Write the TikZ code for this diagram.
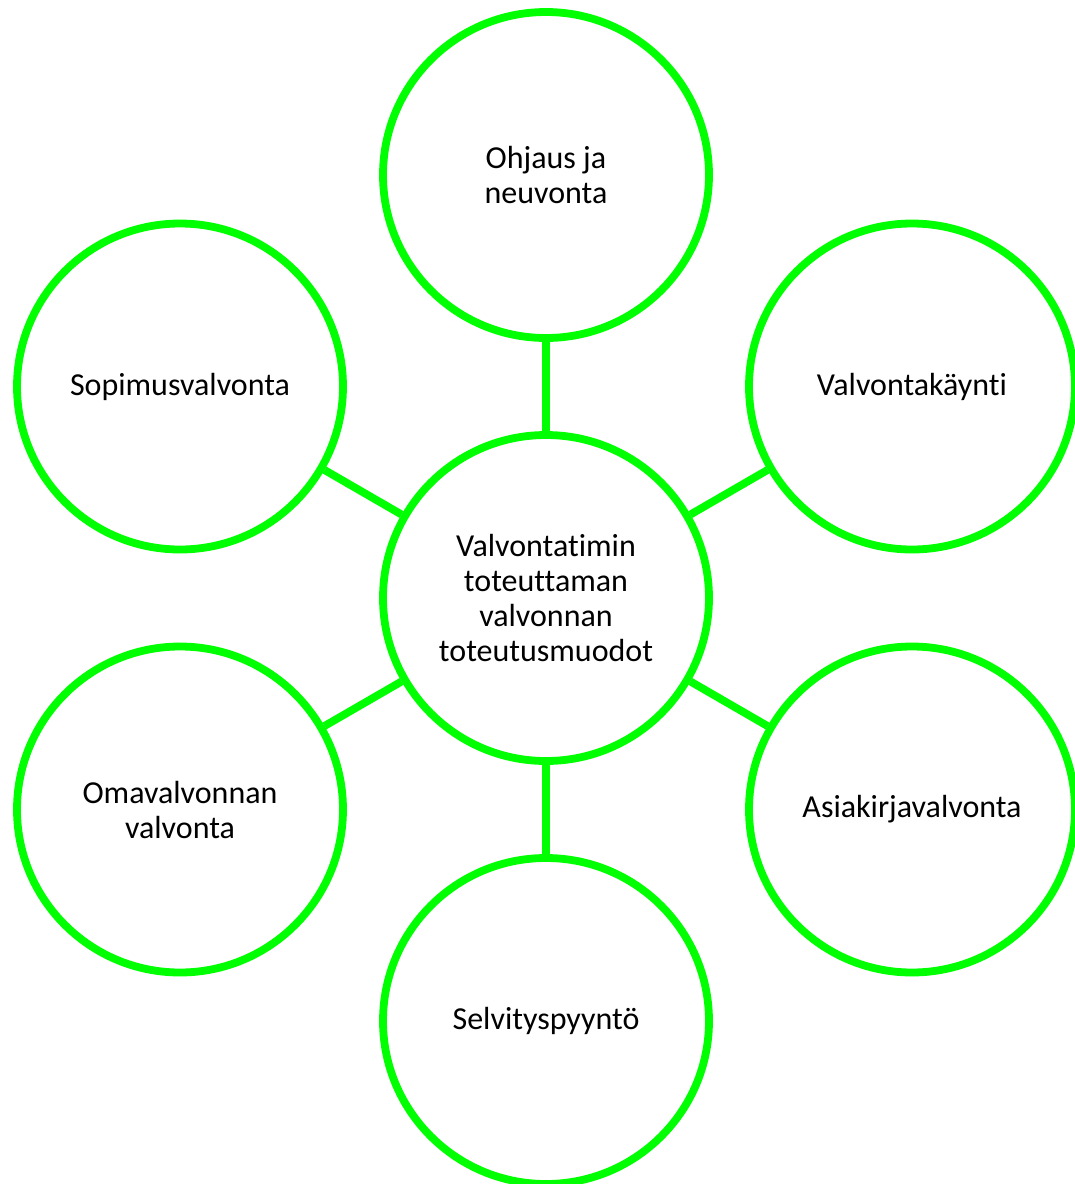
\documentclass[tikz,border=0pt]{standalone}
\usepackage{fontspec}
\setmainfont{Carlito}[Ligatures=NoCommon]
\usetikzlibrary{positioning}

\definecolor{valgreen}{RGB}{0,255,0}

\tikzset{
	form/.style={circle, draw=valgreen, line width=7.8pt, fill=white,
		minimum size=326pt, inner sep=0pt, align=center,
		font=\fontsize{32}{35}\selectfont},
	link/.style={draw=valgreen, line width=7.8pt}
}

\begin{document}
\begin{tikzpicture}[on grid, node distance = 423pt]
		\useasboundingbox (0pt,0pt) rectangle (1075pt,-1184pt);
		\clip (0pt,0pt) rectangle (1075pt,-1184pt);
		
		\node[form] (C) at (546pt,-598pt) {Valvontatimin\\toteuttaman\\valvonnan\\toteutusmuodot};
		\node[form, above = of C] (T) {Ohjaus ja\\neuvonta};
		\node[form, above left = 211.5pt and 366pt of C] (UL) {Sopimusvalvonta};
		\node[form, above right = 211.5pt and 366pt of C] (UR) {Valvontakäynti};
		\node[form, below left = 211.5pt and 366pt of C] (LL) {Omavalvonnan\\valvonta};
		\node[form, below right = 211.5pt and 366pt of C] (LR) {Asiakirjavalvonta};
		\node[form, below = of C] (B) {Selvityspyyntö};
		
		\path[link] (C) edge[link] (T)
		(C) edge[link] (UL)
		(C) edge[link] (UR)
		(C) edge[link] (LL)
		(C) edge[link] (LR)
		(C) edge[link] (B);
		
		\end{tikzpicture}
\end{document}
